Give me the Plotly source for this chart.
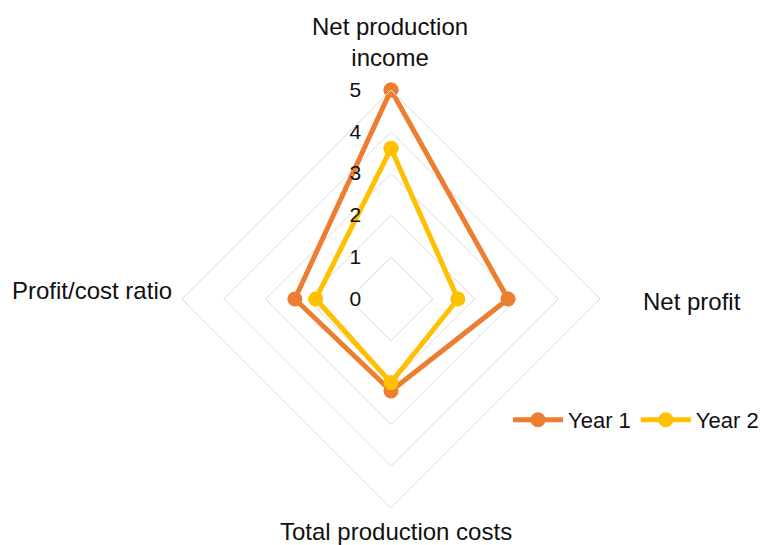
import plotly.graph_objects as go

categories = ["Net production income", "Net profit", "Total production costs", "Profit/cost ratio"]
category_labels = ["Net production<br>income", "Net profit", "Total production costs", "Profit/cost ratio"]
year1 = [5.0, 2.8, 2.2, 2.3]
year2 = [3.6, 1.6, 2.0, 1.8]
series_names = ["Year 1", "Year 2"]
radial_ticks = [0, 1, 2, 3, 4, 5]

colors = ["#ED7D31", "#FFC000"]
FONT = "Liberation Sans, Arial, sans-serif"
W, H = 767, 545

fig = go.Figure()
for name, vals, col in zip(series_names, [year1, year2], colors):
    fig.add_trace(go.Scatterpolar(
        r=vals + vals[:1],
        theta=categories + categories[:1],
        mode="lines+markers",
        name=name,
        line=dict(color=col, width=5),
        marker=dict(color=col, size=15),
    ))

fig.update_layout(
    width=W, height=H,
    margin=dict(l=0, r=0, t=0, b=0),
    paper_bgcolor="white",
    plot_bgcolor="white",
    font=dict(family=FONT, color="#111111"),
    polar=dict(
        domain=dict(x=[182 / W, 600 / W], y=[1 - 508 / H, 1 - 90 / H]),
        bgcolor="white",
        gridshape="linear",
        radialaxis=dict(
            range=[0, 5],
            tickvals=radial_ticks,
            ticktext=[str(t) for t in radial_ticks],
            angle=90,
            side="counterclockwise",
            showline=False,
            gridcolor="#d9d9d9",
            gridwidth=1,
            ticks="outside",
            ticklen=22,
            tickcolor="rgba(0,0,0,0)",
            tickfont=dict(size=21, color="#111111"),
            tickangle=90,
        ),
        angularaxis=dict(
            rotation=90,
            direction="clockwise",
            showgrid=False,
            showline=True,
            linecolor="#d9d9d9",
            linewidth=1,
            showticklabels=False,
            ticks="",
        ),
    ),
    showlegend=True,
    legend=dict(
        orientation="h",
        x=508 / W, xanchor="left",
        y=1 - 420 / H, yanchor="middle",
        font=dict(size=22, color="#111111"),
        bgcolor="rgba(0,0,0,0)",
        itemwidth=50,
        tracegroupgap=0,
    ),
)

label_pos = [
    (390, 42, "center"),
    (641, 301, "left"),
    (396, 531, "center"),
    (10, 290, "left"),
]
for text, (px, py, anchor) in zip(category_labels, label_pos):
    fig.add_annotation(
        text=text, x=px / W, y=1 - py / H, xref="paper", yref="paper",
        xanchor=anchor, yanchor="middle", showarrow=False,
        font=dict(size=24, color="#111111", family=FONT),
    )

fig.write_html("out.html", config={"displayModeBar": False},
               post_script="document.body.style.margin='0';")
